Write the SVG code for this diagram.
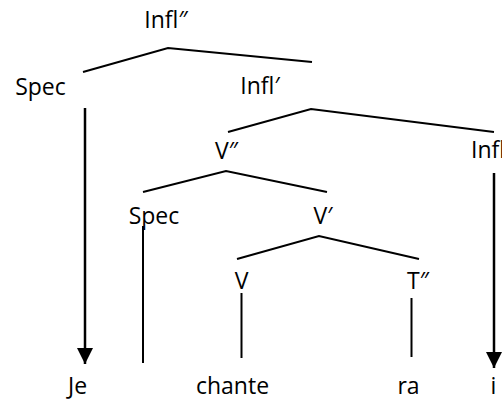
<svg xmlns="http://www.w3.org/2000/svg" width="502" height="400" viewBox="0 0 502 400">
  <style>
    text { font-family: "Open Sans", "Noto Sans", sans-serif; font-size: 23px; fill: #000; text-anchor: middle; }
    .br { stroke: #000; stroke-width: 2; fill: none; }
    .ar { stroke: #000; stroke-width: 2.5; fill: none; marker-end: url(#ah); }
  </style>
  <defs>
    <marker id="ah" markerUnits="userSpaceOnUse" markerWidth="16" markerHeight="16" refX="16" refY="8" orient="auto" viewBox="0 0 16 16">
      <path d="M0,0 L16,8 L0,16 z" fill="#000"/>
    </marker>
  </defs>
  <g id="n-inflpp"><text x="166" y="28">Infl″</text></g>
  <g id="n-spec1"><text x="40.5" y="95">Spec</text></g>
  <g id="n-inflp"><text x="260" y="94">Infl′</text></g>
  <g id="n-infl"><text x="471" y="158" style="text-anchor:start">Infl</text></g>
  <g id="n-vpp"><text x="226.5" y="159">V″</text></g>
  <g id="n-spec2"><text x="154" y="224">Spec</text></g>
  <g id="n-vp"><text x="323" y="224">V′</text></g>
  <g id="n-v"><text x="241.5" y="289">V</text></g>
  <g id="n-tpp"><text x="418" y="289">T″</text></g>
  <g id="n-je"><text x="77.5" y="394">Je</text></g>
  <g id="n-chante"><text x="232.5" y="394">chante</text></g>
  <g id="n-ra"><text x="408.5" y="394">ra</text></g>
  <g id="n-i"><text x="493.5" y="394">i</text></g>
  <g id="connectors">
    <polyline class="br" points="83,72 168,48 312,62"/>
    <polyline class="br" points="228,132 311,109 494,132"/>
    <polyline class="br" points="143,192 226,171 327,192"/>
    <polyline class="br" points="237,259 319,236 419,259"/>
    <line class="br" x1="143" y1="226" x2="143" y2="363"/>
    <line class="br" x1="241.5" y1="293" x2="241.5" y2="358"/>
    <line class="br" x1="411.5" y1="298" x2="411.5" y2="357"/>
    <line class="ar" x1="85" y1="108" x2="85" y2="364"/>
    <line class="ar" x1="494" y1="173" x2="494" y2="368"/>
  </g>
</svg>
